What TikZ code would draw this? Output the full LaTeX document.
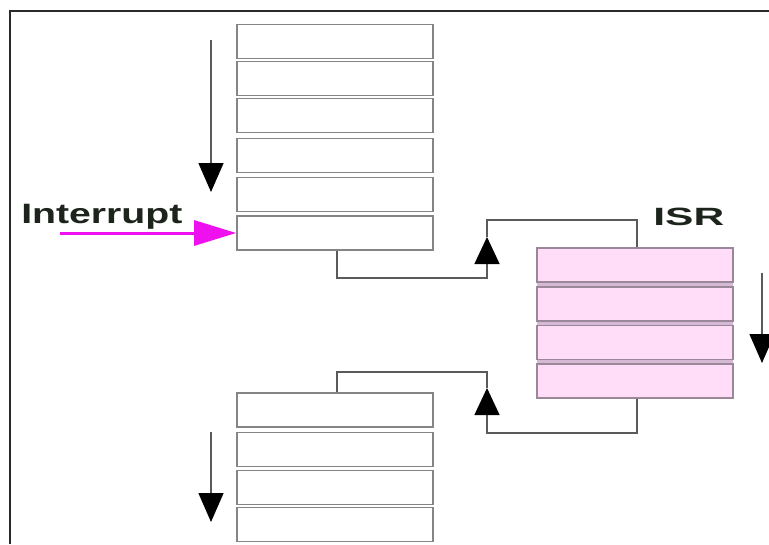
\documentclass[tikz,border=0pt]{standalone}
\usepackage{fontspec}
\setmainfont{Liberation Sans}
\usetikzlibrary{arrows.meta}
\definecolor{boxgray}{HTML}{858585}
\definecolor{conngray}{HTML}{5A5A5A}
\definecolor{isrpink}{HTML}{FFDCF8}
\definecolor{isrborder}{HTML}{9A889A}
\definecolor{isrgap}{HTML}{D4B8D4}
\definecolor{framecol}{HTML}{2A2A2A}
\definecolor{intmag}{HTML}{EE10EE}
\definecolor{textcol}{HTML}{1C241C}
\begin{document}
\begin{tikzpicture}[x=1pt,y=-1pt,
  stackbox/.style={draw=boxgray, line width=1.7pt, fill=white, minimum width=196pt, minimum height=34pt, inner sep=0pt},
  isrbox/.style={stackbox, draw=isrborder, fill=isrpink},
  conn/.style={draw=conngray, line width=1.4pt},
  uptri/.style={-{Triangle[width=25pt,length=27pt,color=black]}},
  flowarrow/.style={conn, -{Triangle[width=25pt,length=29pt,color=black]}},
  intarrow/.style={draw=intmag, line width=3pt, -{Triangle[width=25pt,length=42pt,color=intmag]}}
]
\useasboundingbox (0,0) rectangle (769,544);
\fill[white] (0,0) rectangle (769,544);
% frame
\draw[framecol, line width=2.5pt] (10,544) -- (10,11) -- (769,11);

% top stack
\node[stackbox] (t1) at (335,41.5) {};
\node[stackbox] (t2) at (335,78.5) {};
\node[stackbox] (t3) at (335,115.5) {};
\node[stackbox] (t4) at (335,155.5) {};
\node[stackbox] (t5) at (335,194.5) {};
\node[stackbox] (t6) at (335,233) {};

% ISR stack
\fill[isrgap] (537,248) rectangle (733,397);
\node[isrbox] (i1) at (635,265) {};
\node[isrbox] (i2) at (635,304) {};
\node[isrbox] (i3) at (635,342.5) {};
\node[isrbox] (i4) at (635,381) {};

% lower stack
\node[stackbox] (b1) at (335,410) {};
\node[stackbox] (b2) at (335,449.5) {};
\node[stackbox] (b3) at (335,487.5) {};
\node[stackbox] (b4) at (335,524.5) {};

% labels
\node[anchor=base west, inner sep=0pt, text=textcol, font=\bfseries\fontsize{28}{30}\selectfont, xscale=1.40] (intlabel) at (21,223) {Interrupt};
\node[anchor=base west, inner sep=0pt, text=textcol, font=\bfseries\fontsize{25}{28}\selectfont, xscale=1.70] (isrlabel) at (653,225) {ISR};

% coordinates
\coordinate (k1) at (487,278);
\coordinate (a1) at (487,237);
\coordinate (k3) at (487,220);
\coordinate (a2) at (487,388);
\coordinate (k4) at (487,372);
\coordinate (ls) at (211,40);
\coordinate (le) at (211,192);
\coordinate (ms) at (211,432);
\coordinate (me) at (211,522);
\coordinate (rs) at (762,273);
\coordinate (re) at (762,363);
\coordinate (is) at (60,233);

% connectors
\draw[conn, uptri] ([xshift=2pt]t6.south) |- (k1) -- (a1);
\draw[conn] (a1) -- (k3) -| ([xshift=2pt]i1.north);
\draw[conn, uptri] ([xshift=2pt]i4.south) -- ++(0,34) -| (a2);
\draw[conn] (a2) -- (k4) -| ([xshift=2pt]b1.north);

% flow arrows
\draw[flowarrow] (ls) -- (le);
\draw[flowarrow] (ms) -- (me);
\draw[flowarrow] (rs) -- (re);

% interrupt arrow
\draw[intarrow] (is) -- (t6.west);
\end{tikzpicture}
\end{document}
